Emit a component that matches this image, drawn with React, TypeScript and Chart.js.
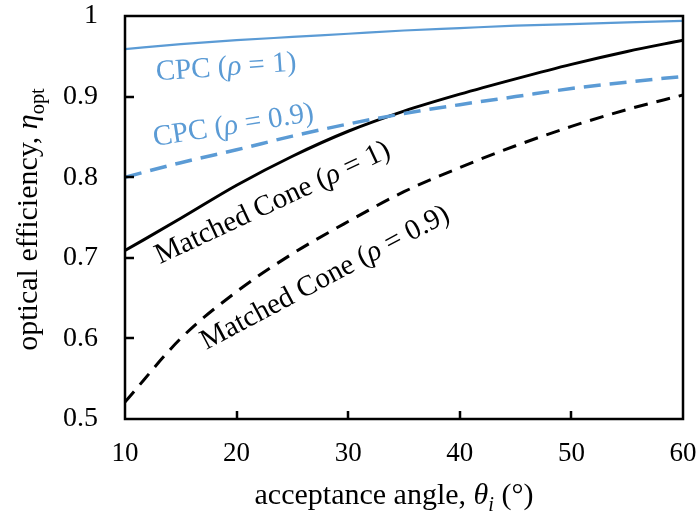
import React, { useEffect, useRef } from "react";
import { Chart, registerables } from "chart.js";

Chart.register(...registerables);

// ---- data ----
const angles = [10, 15, 20, 25, 30, 35, 40, 45, 50, 55, 60];
const cpcRho1 = [0.959, 0.965, 0.970, 0.974, 0.978, 0.982, 0.985, 0.988, 0.990, 0.992, 0.994];
const cpcRho09 = [0.800, 0.818, 0.834, 0.851, 0.866, 0.879, 0.890, 0.900, 0.910, 0.918, 0.925];
const coneRho1 = [0.709, 0.749, 0.790, 0.826, 0.857, 0.882, 0.903, 0.922, 0.940, 0.956, 0.970];
const coneRho09 = [0.521, 0.600, 0.658, 0.705, 0.745, 0.782, 0.812, 0.839, 0.863, 0.884, 0.902];

const xTicks = [10, 20, 30, 40, 50, 60];
const yTicks = [0.5, 0.6, 0.7, 0.8, 0.9, 1];

const FONT = "'Liberation Serif', 'Times New Roman', serif";
const BLUE = "#5b9bd5";

type Seg = { t: string; italic?: boolean; sub?: boolean };

// label annotations: [segments, x(data), y(data), angle, color]
const labels: { segs: Seg[]; x: number; y: number; rot: number; color: string }[] = [
  { segs: [{ t: "CPC (" }, { t: "ρ", italic: true }, { t: " = 1)" }], x: 19.05, y: 0.937, rot: -4, color: BLUE },
  { segs: [{ t: "CPC (" }, { t: "ρ", italic: true }, { t: " = 0.9)" }], x: 19.7, y: 0.865, rot: -9, color: BLUE },
  { segs: [{ t: "Matched Cone (" }, { t: "ρ", italic: true }, { t: " = 1)" }], x: 23.2, y: 0.769, rot: -25, color: "#000" },
  { segs: [{ t: "Matched Cone (" }, { t: "ρ", italic: true }, { t: " = 0.9)" }], x: 27.9, y: 0.676, rot: -28, color: "#000" },
];

const xTitle: Seg[] = [{ t: "acceptance angle, " }, { t: "θ", italic: true }, { t: "i", italic: true, sub: true }, { t: " (°)" }];
const yTitle: Seg[] = [{ t: "optical efficiency, " }, { t: "η", italic: true }, { t: "opt", sub: true }];

function drawRich(ctx: CanvasRenderingContext2D, segs: Seg[], cx: number, cy: number, rot: number, size: number, color: string) {
  ctx.save();
  ctx.translate(cx, cy);
  ctx.rotate((rot * Math.PI) / 180);
  const fontFor = (s: Seg) => `${s.italic ? "italic " : ""}${s.sub ? size * 0.68 : size}px ${FONT}`;
  let w = 0;
  const widths = segs.map((s) => {
    ctx.font = fontFor(s);
    const m = ctx.measureText(s.t).width;
    w += m;
    return m;
  });
  let x = -w / 2;
  const base = size * 0.3;
  ctx.fillStyle = color;
  ctx.textBaseline = "alphabetic";
  ctx.textAlign = "left";
  segs.forEach((s, i) => {
    ctx.font = fontFor(s);
    ctx.fillText(s.t, x, base + (s.sub ? size * 0.22 : 0));
    x += widths[i];
  });
  ctx.restore();
}

const decorPlugin = {
  id: "decor",
  afterDraw(chart: any) {
    const { ctx, chartArea } = chart;
    const xs = chart.scales.x;
    const ys = chart.scales.y;
    const { left, right, top, bottom } = chartArea;
    ctx.save();
    // inward ticks
    ctx.strokeStyle = "#000";
    ctx.lineWidth = 2.5;
    ctx.beginPath();
    xTicks.forEach((v) => {
      if (v === xs.min || v === xs.max) return;
      const px = Math.round(xs.getPixelForValue(v));
      ctx.moveTo(px, bottom);
      ctx.lineTo(px, bottom - 8);
    });
    yTicks.forEach((v) => {
      if (v === ys.min || v === ys.max) return;
      const py = Math.round(ys.getPixelForValue(v));
      ctx.moveTo(left, py);
      ctx.lineTo(left + 9, py);
    });
    ctx.stroke();
    // frame
    ctx.lineWidth = 2.5;
    ctx.strokeRect(left, top, right - left, bottom - top);
    ctx.restore();

    // annotations
    labels.forEach((l) => {
      drawRich(ctx, l.segs, xs.getPixelForValue(l.x), ys.getPixelForValue(l.y), l.rot, 29, l.color);
    });
    // axis titles
    drawRich(ctx, xTitle, (left + right) / 2 - 10, 495, 0, 30, "#000");
    drawRich(ctx, yTitle, 28, (top + bottom) / 2 + 2, -90, 30, "#000");
  },
};

export default function App() {
  const ref = useRef<HTMLCanvasElement | null>(null);
  useEffect(() => {
    if (!ref.current) return;
    const mk = (vals: number[]) => angles.map((a, i) => ({ x: a, y: vals[i] }));
    const chart = new Chart(ref.current, {
      type: "line",
      data: {
        datasets: [
          { label: "CPC (ρ = 1)", data: mk(cpcRho1), borderColor: BLUE, borderWidth: 2.2, pointRadius: 0, cubicInterpolationMode: "monotone" },
          { label: "CPC (ρ = 0.9)", data: mk(cpcRho09), borderColor: BLUE, borderWidth: 3.5, borderDash: [17, 9], pointRadius: 0, cubicInterpolationMode: "monotone" },
          { label: "Matched Cone (ρ = 1)", data: mk(coneRho1), borderColor: "#000", borderWidth: 3, pointRadius: 0, cubicInterpolationMode: "monotone" },
          { label: "Matched Cone (ρ = 0.9)", data: mk(coneRho09), borderColor: "#000", borderWidth: 3, borderDash: [14, 9], pointRadius: 0, cubicInterpolationMode: "monotone" },
        ],
      },
      options: {
        animation: false,
        responsive: true,
        maintainAspectRatio: false,
        layout: { padding: { left: 0, right: 14, top: 16, bottom: 0 } },
        plugins: { legend: { display: false }, tooltip: { enabled: false } },
        scales: {
          x: {
            type: "linear",
            min: 10,
            max: 60,
            afterFit: (s: any) => { s.height = 95; s.paddingLeft = 0; s.paddingRight = 0; s.paddingTop = 0; s.paddingBottom = 0; },
            afterBuildTicks: (s: any) => { s.ticks = xTicks.map((v) => ({ value: v })); },
            grid: { display: false, drawTicks: false },
            border: { display: false },
            ticks: { color: "#000", padding: 19, font: { family: FONT, size: 27 }, callback: (v: any) => String(v) },
          },
          y: {
            type: "linear",
            min: 0.5,
            max: 1,
            afterFit: (s: any) => { s.width = 125; s.paddingLeft = 0; s.paddingRight = 0; s.paddingTop = 0; s.paddingBottom = 0; },
            afterBuildTicks: (s: any) => { s.ticks = yTicks.map((v) => ({ value: v })); },
            grid: { display: false, drawTicks: false },
            border: { display: false },
            ticks: { color: "#000", padding: 27, font: { family: FONT, size: 28 }, callback: (v: any) => String(Math.round(v * 10) / 10) },
          },
        },
      },
      plugins: [decorPlugin],
    } as any);
    return () => chart.destroy();
  }, []);
  return (
    <div style={{ position: "absolute", left: 0, top: 0, width: 697, height: 514 }}>
      <canvas ref={ref} />
    </div>
  );
}
